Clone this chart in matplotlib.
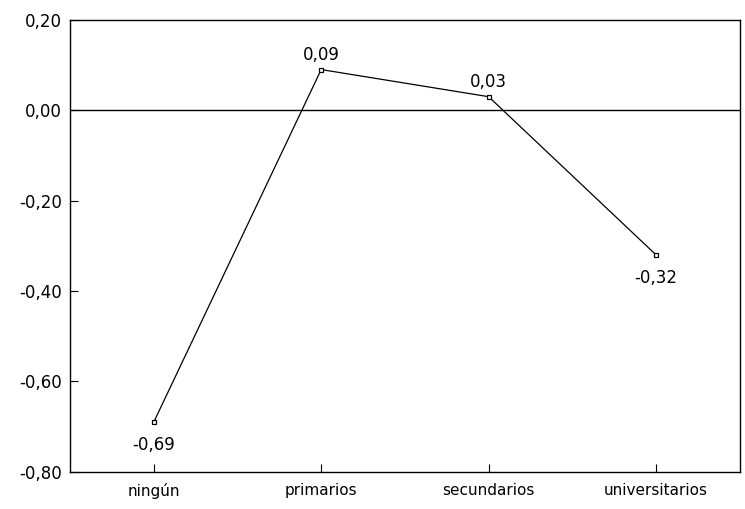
import matplotlib.pyplot as plt
from matplotlib.ticker import FuncFormatter

categories = ["ningún", "primarios", "secundarios", "universitarios"]
values = [-0.69, 0.09, 0.03, -0.32]
y_ticks = [0.20, 0.00, -0.20, -0.40, -0.60, -0.80]

def coma(v):
    return f"{v:.2f}".replace(".", ",")

fig = plt.figure(figsize=(7.45, 5.09), dpi=100)
ax = fig.add_axes([0.094, 0.073, 0.899, 0.888])

x = list(range(len(categories)))
ax.plot(x, values, color="black", linewidth=0.9, marker="s", markersize=3.5,
        markerfacecolor="white", markeredgecolor="black", markeredgewidth=0.9)
ax.axhline(0, color="black", linewidth=1.0)

# etiquetas de los valores
for xi, v in zip(x, values):
    if v < -0.1:
        ax.annotate(coma(v), (xi, v), xytext=(0, -10), textcoords="offset points",
                    ha="center", va="top", fontsize=12)
    else:
        ax.annotate(coma(v), (xi, v), xytext=(0, 4), textcoords="offset points",
                    ha="center", va="bottom", fontsize=12)

ax.set_xlim(-0.5, 3.5)
ax.set_ylim(-0.80, 0.20)
ax.set_xticks(x)
ax.set_xticklabels(categories, fontsize=11)
ax.set_yticks(y_ticks)
ax.yaxis.set_major_formatter(FuncFormatter(lambda v, p: coma(v)))
ax.tick_params(axis="y", direction="in", length=6, labelsize=12, pad=6)
ax.tick_params(axis="x", direction="in", length=6, labelsize=11, pad=8)
for s in ax.spines.values():
    s.set_linewidth(1.0)

plt.savefig("out.png", dpi=100)
